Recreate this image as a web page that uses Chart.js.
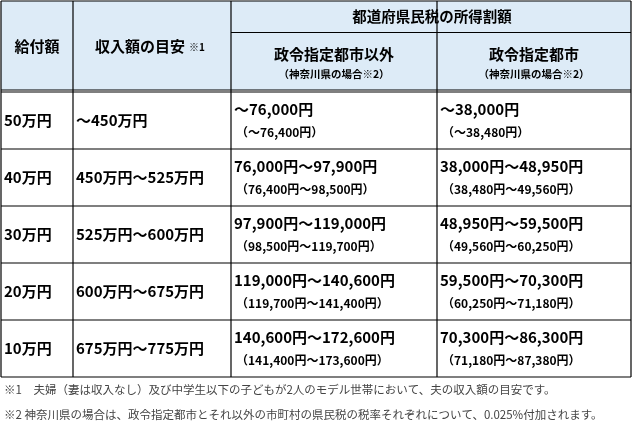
<!DOCTYPE html>
<html><head><meta charset="utf-8">
<script src="https://cdn.jsdelivr.net/npm/chart.js@4"></script>
<style>html,body{margin:0;padding:0;background:#fff}#c{display:block}</style>
</head><body>
<div style="width:633px;height:428px"><canvas id="c"></canvas></div>
<script>
const benefits=["50万円","40万円","30万円","20万円","10万円"];
const incomes=["～450万円","450万円～525万円","525万円～600万円","600万円～675万円","675万円～775万円"];
const nonDesig=["～76,000円","76,000円～97,900円","97,900円～119,000円","119,000円～140,600円","140,600円～172,600円"];
const nonDesigK=["（～76,400円）","（76,400円～98,500円）","（98,500円～119,700円）","（119,700円～141,400円）","（141,400円～173,600円）"];
const desig=["～38,000円","38,000円～48,950円","48,950円～59,500円","59,500円～70,300円","70,300円～86,300円"];
const desigK=["（～38,480円）","（38,480円～49,560円）","（49,560円～60,250円）","（60,250円～71,180円）","（71,180円～87,380円）"];
const headers=["給付額","収入額の目安","都道府県民税の所得割額","政令指定都市以外","政令指定都市","（神奈川県の場合※2）"];
const notes=["※1　夫婦（妻は収入なし）及び中学生以下の子どもが2人のモデル世帯において、夫の収入額の目安です。","※2 神奈川県の場合は、政令指定都市とそれ以外の市町村の県民税の税率それぞれについて、0.025%付加されます。"];
const colX=[1,73,231,437,631];
const rowY=[92,149,206,263,320,377];
const F='"Noto Sans CJK JP"';
const tablePlugin={id:'tbl',afterDraw(ch){
 const c=ch.ctx,xs=ch.scales.x,ys=ch.scales.y;
 const X=v=>xs.getPixelForValue(v),Y=v=>ys.getPixelForValue(v);
 c.save();
 c.fillStyle='#DDEBF7';c.fillRect(X(1),Y(1),X(631)-X(1),Y(90)-Y(1));
 c.strokeStyle='#000';c.lineWidth=1.2;
 const h=(x1,x2,y)=>{c.beginPath();c.moveTo(X(x1),Y(y));c.lineTo(X(x2),Y(y));c.stroke();};
 const v=(x,y1,y2)=>{c.beginPath();c.moveTo(X(x),Y(y1));c.lineTo(X(x),Y(y2));c.stroke();};
 h(1,631,1);h(231,631,32.5);h(1,631,90);h(1,631,92);
 rowY.slice(1).forEach(y=>h(1,631,y));
 colX.forEach(x=>v(x,1,377));
 c.fillStyle='#000';c.textBaseline='middle';
 c.font='bold 15px '+F;c.textAlign='center';
 c.fillText(headers[0],X(37),Y(46));
 c.fillText(headers[3],X(334),Y(54));c.fillText(headers[4],X(534),Y(54));
 c.fillText(headers[1],X(140),Y(46));
 c.font='bold 14.5px '+F;c.fillText(headers[2],X(432),Y(16));
 c.font='bold 10px '+F;c.fillText('※1',X(197),Y(47));
 c.font='bold 10.5px '+F;c.fillText(headers[5],X(334),Y(74));c.fillText(headers[5],X(534),Y(74));
 c.textAlign='left';
 for(let i=0;i<5;i++){
  const t=rowY[i];
  c.font='bold 15px '+F;
  c.fillText(benefits[i],X(4),Y(t+28));
  c.fillText(incomes[i],X(76),Y(t+28));
  c.fillText(nonDesig[i],X(234),Y(t+17));
  c.fillText(desig[i],X(440),Y(t+17));
  c.font='bold 12px '+F;
  c.fillText(nonDesigK[i],X(236),Y(t+40));
  c.fillText(desigK[i],X(442),Y(t+40));
 }
 c.fillStyle='#444';c.font='11.5px '+F;
 c.fillText(notes[0],X(4),Y(390));c.fillText(notes[1],X(4),Y(415));
 c.restore();}};
new Chart(document.getElementById('c'),{type:'scatter',data:{datasets:[{data:[]}]},
 options:{responsive:true,maintainAspectRatio:false,animation:false,layout:{padding:0},
  plugins:{legend:{display:false},tooltip:{enabled:false}},
  scales:{x:{type:'linear',min:0,max:633,display:false},y:{type:'linear',min:0,max:428,reverse:true,display:false}}},
 plugins:[tablePlugin]});
</script></body></html>
